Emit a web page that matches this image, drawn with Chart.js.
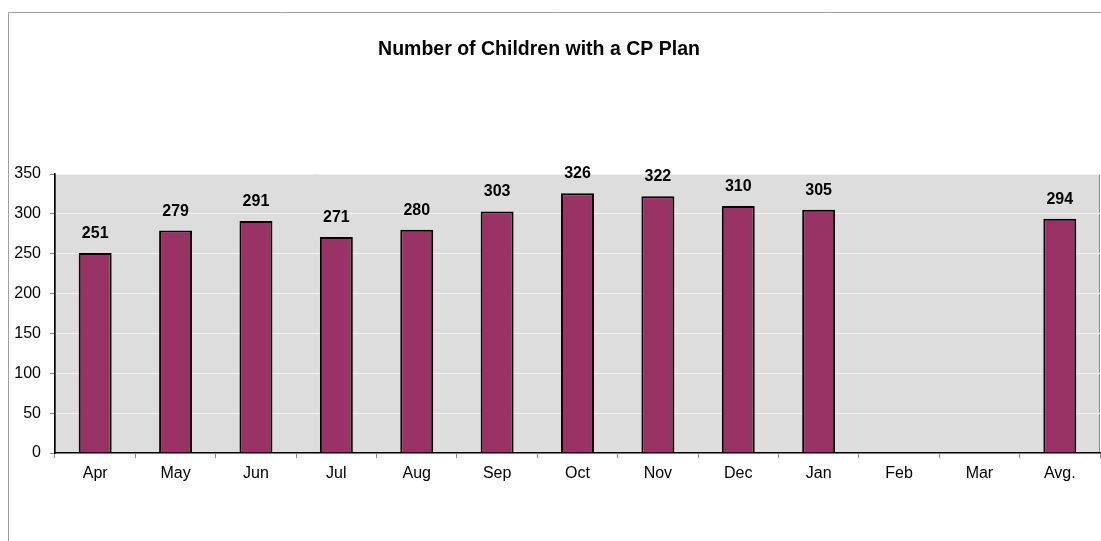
<!DOCTYPE html>
<html lang="en">
<head>
  <meta charset="UTF-8">
  <title>Number of Children with a CP Plan</title>
  <script src="https://cdn.jsdelivr.net/npm/chart.js"></script>
  <style>
    html, body {
      margin: 0;
      padding: 0;
      background: #ffffff;
    }
    #wrap {
      width: 1101px;
      height: 541px;
    }
  </style>
</head>
<body>
  <div id="wrap"><canvas id="cpChart"></canvas></div>

  <script>
    // data
    const months = ["Apr", "May", "Jun", "Jul", "Aug", "Sep", "Oct", "Nov", "Dec", "Jan", "Feb", "Mar", "Avg."];
    const children = [251, 279, 291, 271, 280, 303, 326, 322, 310, 305, null, null, 294];
    const yTicks = [0, 50, 100, 150, 200, 250, 300, 350];

    const titleText = "Number of Children with a CP Plan";
    const fontName = "'Liberation Sans', Arial, sans-serif";

    // grey plot background, outer frame, title and value labels
    const decor = {
      id: "decor",
      beforeDraw(chart) {
        const c = chart.ctx;
        const a = chart.chartArea;
        c.save();
        c.fillStyle = "#dddddd";
        c.fillRect(a.left, a.top, a.right - a.left, a.bottom - a.top);
        c.strokeStyle = "#8c8c8c";
        c.lineWidth = 1;
        c.strokeRect(a.left + 0.5, a.top + 0.5, a.right - a.left - 1, a.bottom - a.top);
        // outer frame (top and left only)
        c.strokeStyle = "#a0a0a0";
        c.beginPath();
        c.moveTo(8.5, chart.height);
        c.lineTo(8.5, 12.5);
        c.lineTo(chart.width, 12.5);
        c.stroke();
        // title
        c.fillStyle = "#000";
        c.font = "bold 19.5px " + fontName;
        c.textAlign = "center";
        c.textBaseline = "alphabetic";
        c.fillText(titleText, 539, 55);
        c.restore();
      },
      afterDatasetsDraw(chart) {
        const c = chart.ctx;
        const meta = chart.getDatasetMeta(0);
        c.save();
        c.fillStyle = "#000";
        c.font = "bold 16px " + fontName;
        c.textAlign = "center";
        c.textBaseline = "alphabetic";
        meta.data.forEach((bar, i) => {
          if (children[i] == null) return;
          c.fillText(String(children[i]), bar.x, bar.y - 15);
        });
        c.restore();
      }
    };

    new Chart(document.getElementById("cpChart"), {
      type: "bar",
      data: {
        labels: months,
        datasets: [{
          data: children,
          backgroundColor: "#993366",
          borderColor: "#000000",
          borderWidth: 2,
          categoryPercentage: 1,
          barPercentage: 0.41
        }]
      },
      options: {
        responsive: true,
        maintainAspectRatio: false,
        animation: false,
        layout: { padding: { top: 174, right: 1, bottom: 0, left: 0 } },
        plugins: {
          legend: { display: false },
          tooltip: { enabled: false }
        },
        scales: {
          x: {
            afterFit(scale) { scale.height = 88; },
            grid: {
              offset: true,
              drawOnChartArea: false,
              tickLength: 5,
              tickColor: "#8c8c8c"
            },
            border: { color: "#000000", width: 1.5 },
            ticks: {
              color: "#000",
              padding: 6,
              font: { family: fontName, size: 16 }
            }
          },
          y: {
            min: 0,
            max: 350,
            afterFit(scale) { scale.width = 55; },
            afterBuildTicks(scale) { scale.ticks = yTicks.map(v => ({ value: v })); },
            grid: {
              color: "#f0f0f0",
              lineWidth: 1,
              tickLength: 5,
              tickColor: "#8c8c8c"
            },
            border: { color: "#000000", width: 1.5 },
            ticks: {
              color: "#000",
              padding: 9,
              font: { family: fontName, size: 16 }
            }
          }
        }
      },
      plugins: [decor]
    });
  </script>
</body>
</html>
